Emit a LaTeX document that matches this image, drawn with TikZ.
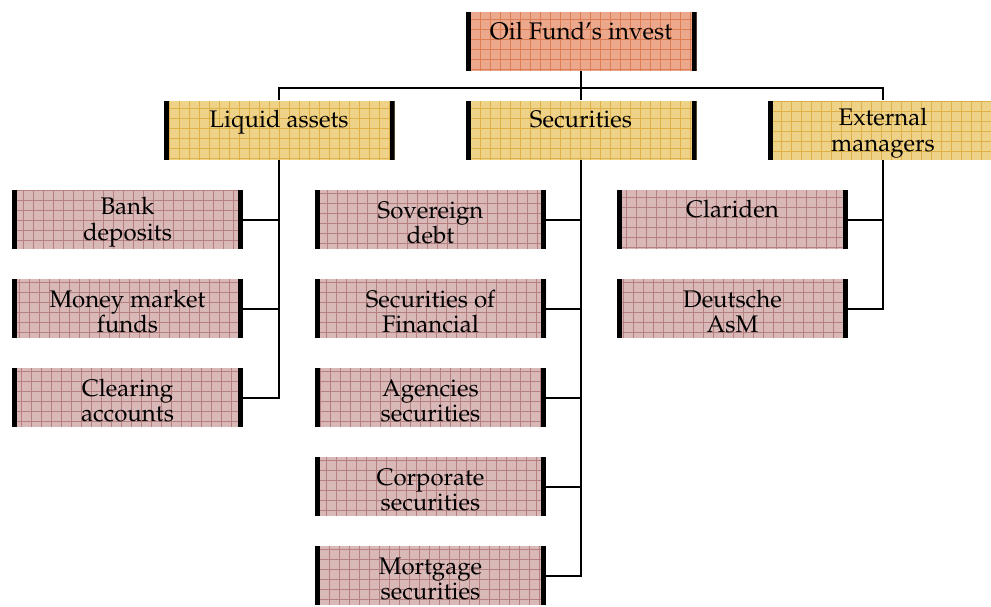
\documentclass[tikz,border=0pt]{standalone}
\usepackage[T1]{fontenc}
\usepackage{mathpazo}
\definecolor{rootfill}{RGB}{236,168,140}
\definecolor{rootgrid}{RGB}{222,124,82}
\definecolor{midfill}{RGB}{238,210,136}
\definecolor{midgrid}{RGB}{222,176,70}
\definecolor{leaffill}{RGB}{217,184,184}
\definecolor{leafgrid}{RGB}{182,128,128}
\tikzset{
  box/.style 2 args={fill=#1, inner sep=0pt, align=center,
    minimum width=115.5pt, minimum height=29.5pt,
    text height=24.4pt,
    font=\fontsize{12}{12.8}\selectfont,
    path picture={
      \draw[#2, line width=0.3pt] (path picture bounding box.south west) grid[step=5pt] (path picture bounding box.north east);
      \fill[black] (path picture bounding box.south west) rectangle ([xshift=2.5pt]path picture bounding box.north west);
      \fill[black] ([xshift=-2.5pt]path picture bounding box.south east) rectangle (path picture bounding box.north east);
    }},
  rootbox/.style={box={rootfill}{rootgrid}},
  midbox/.style={box={midfill}{midgrid}},
  leafbox/.style={box={leaffill}{leafgrid}},
  oneline/.style={text height=8.8pt, text depth=11pt},
  conn/.style={line width=1pt}
}
\begin{document}
\begin{tikzpicture}[x=0.5pt,y=-0.5pt]
\useasboundingbox (0,0) rectangle (991,606);
\node[rootbox,oneline] (root) at (581,41.5) {Oil Fund's invest};
\node[midbox,oneline] (liquid) at (279,130) {Liquid assets};
\node[midbox,oneline] (secur) at (581,130) {Securities};
\node[midbox] (extmgr) at (883,130) {External\\managers};
% liquid assets
\node[leafbox] (bank) at (127.5,219.5) {Bank\\deposits};
\node[leafbox] (mmf) at (127.5,308.5) {Money market\\funds};
\node[leafbox] (clear) at (127.5,397.5) {Clearing\\accounts};
% securities
\node[leafbox] (sov) at (430.5,219.5) {Sovereign\\debt};
\node[leafbox] (secfin) at (430.5,308.5) {Securities of\\Financial};
\node[leafbox] (agency) at (430.5,397.5) {Agencies\\securities};
\node[leafbox] (corp) at (430.5,486.5) {Corporate\\securities};
\node[leafbox] (mortg) at (430.5,575.5) {Mortgage\\securities};
% external managers
\node[leafbox,oneline] (clariden) at (732.5,219.5) {Clariden};
\node[leafbox] (deutsche) at (732.5,308.5) {Deutsche\\AsM};
\coordinate (bus) at (581,88);
\draw[conn] (root.south) -- (secur.north);
\draw[conn] (liquid.north) |- (bus) -| (extmgr.north);
\foreach \c in {bank,mmf,clear} \draw[conn] (liquid.south) |- (\c.east);
\foreach \c in {sov,secfin,agency,corp,mortg} \draw[conn] (secur.south) |- (\c.east);
\foreach \c in {clariden,deutsche} \draw[conn] (extmgr.south) |- (\c.east);
\end{tikzpicture}
\end{document}
